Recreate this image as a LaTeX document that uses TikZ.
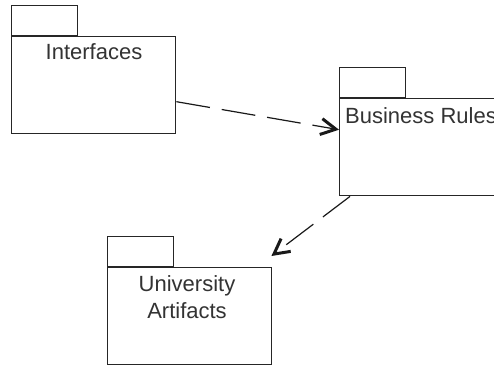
\documentclass[tikz,border=0pt]{standalone}
\usepackage{fontspec}
\setmainfont{Liberation Sans}
\usetikzlibrary{arrows.meta}
\begin{document}
\begin{tikzpicture}[x=1pt,y=-1pt,
  pkgline/.style={draw=black!85, line width=1.4pt},
  pkgbody/.style={pkgline, rectangle, anchor=north west, inner sep=0pt,
    minimum width=164pt, minimum height=97pt},
  pkgtab/.style={pkgline, rectangle, anchor=south west, inner sep=0pt,
    minimum width=66pt, minimum height=30pt},
  pkgname/.style={font=\fontsize{22}{27}\selectfont, text=black!80,
    align=center, inner sep=0pt},
  dep/.style={draw=black!90, line width=1.2pt, dash pattern=on 34pt off 12pt,
    -{Straight Barb[length=15pt,width=16pt,line width=3pt]}}
]
\clip (0,0) rectangle (494,364);
\fill[white] (0,0) rectangle (494,364);

% package: Interfaces
\node[pkgbody] (iface) at (11,36) {};
\node[pkgtab] (ifacetab) at (iface.north west) {};
\node[pkgname, anchor=north] (ifacename) at (94,43) {Interfaces};

% package: Business Rules
\node[pkgbody, minimum width=170pt] (rules) at (339,98) {};
\node[pkgtab] (rulestab) at (rules.north west) {};
\node[pkgname, anchor=north west] (rulesname) at (345,107) {Business Rules};

% package: University Artifacts
\node[pkgbody] (univ) at (107,267) {};
\node[pkgtab] (univtab) at (univ.north west) {};
\node[pkgname, anchor=north] (univname) at (187,275) {University\\Artifacts};

% dependencies
\draw[dep] ([yshift=-16.5pt]iface.east) -- ([yshift=17.5pt]rules.west);
\draw[dep] ([xshift=11pt]rules.south west) -- ([shift={(-1pt,11pt)}]univ.north east);
\end{tikzpicture}
\end{document}
